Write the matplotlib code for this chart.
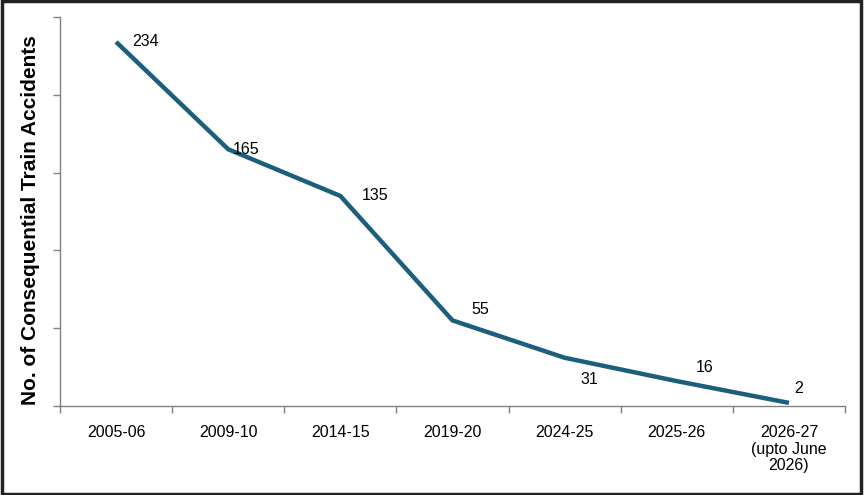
import matplotlib
matplotlib.use("Agg")
import matplotlib.pyplot as plt
from matplotlib.patches import Rectangle

categories = ["2005-06", "2009-10", "2014-15", "2019-20", "2024-25", "2025-26",
              "2026-27\n(upto June\n2026)"]
accidents = [234, 165, 135, 55, 31, 16, 2]
label_offsets = [(21, 0), (13, 0), (25, 0), (20, 8), (18, -16), (20, 10), (7, 10)]

plt.rcParams['font.family'] = ['Liberation Sans', 'DejaVu Sans']

fig = plt.figure(figsize=(8.64, 4.95), dpi=100)
ax = fig.add_axes([60/864, 1-406/495, (845-60)/864, (406-17)/495])

x = list(range(len(categories)))
ax.plot(x, accidents, color='#1b5f7b', lw=3.2, solid_capstyle='butt', solid_joinstyle='miter')

for xi, v, off in zip(x, accidents, label_offsets):
    ax.annotate(str(v), (xi, v), xytext=off, textcoords='offset points',
                ha='center', va='center', fontsize=11.5)

ax.set_xlim(-0.5, len(categories) - 0.5)
ax.set_ylim(0, 250)
ax.set_yticks([0, 50, 100, 150, 200, 250])
ax.set_yticklabels([])
ax.set_xticks(x)
ax.set_xticklabels(categories, fontsize=11.5, linespacing=1.12, va='top')
ax.set_xticks([i - 0.5 for i in range(len(categories) + 1)], minor=True)
ax.tick_params(axis='x', which='major', length=0, pad=14)
ax.tick_params(axis='x', which='minor', length=5, color='#808080', width=1)
ax.tick_params(axis='y', length=5, color='#808080', width=1)

for s in ['top', 'right']:
    ax.spines[s].set_visible(False)
for s in ['left', 'bottom']:
    ax.spines[s].set_color('#808080')
    ax.spines[s].set_linewidth(1)

fig.text(31/864, 1 - 220/495, "No. of Consequential Train Accidents", rotation=90,
         ha='center', va='center', fontsize=15, fontweight='bold')

fig.patches.append(Rectangle((0.002, 0.003), 0.995, 0.994, transform=fig.transFigure,
                             fill=False, edgecolor='#222222', lw=2.5, zorder=10))

fig.savefig("out.png", dpi=100)
